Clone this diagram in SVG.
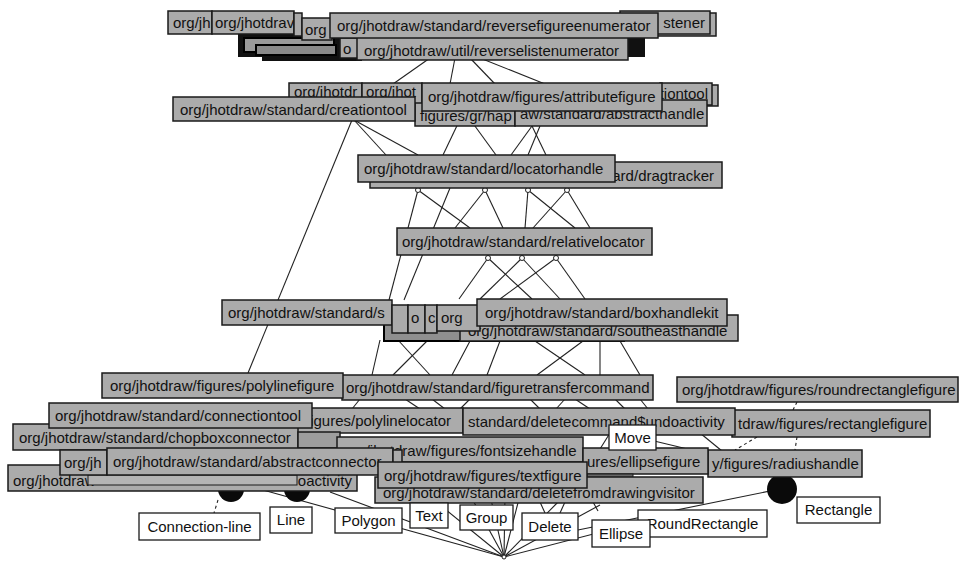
<svg xmlns="http://www.w3.org/2000/svg" width="961" height="562" viewBox="0 0 961 562">
<style>
.n rect{fill:#ababab;stroke:#1a1a1a;stroke-width:1.5}
.n text,.l text{font-family:"Liberation Sans",Arial,sans-serif;font-size:15px;fill:#111}
.l rect{fill:#fff;stroke:#1a1a1a;stroke-width:1.3}
.l text{text-anchor:middle}
.e{text-anchor:end}
#edges line{stroke:#222;stroke-width:1.1;fill:none}
#edges .d{stroke-dasharray:3 3}
.c{fill:#fff;stroke:#222;stroke-width:1}
.blk{fill:#111}
.dot{fill:#0a0a0a}
</style>
<rect width="961" height="562" fill="#fff"/>
<g id="edges">
<line x1="430" y1="58" x2="393" y2="84"/>
<line x1="455" y1="58" x2="450" y2="84"/>
<line x1="470" y1="58" x2="495" y2="84"/>
<line x1="480" y1="58" x2="545" y2="84"/>
<line x1="354" y1="120" x2="386" y2="155"/>
<line x1="354" y1="120" x2="418" y2="155"/>
<line x1="464" y1="111" x2="443" y2="155"/>
<line x1="464" y1="111" x2="496" y2="155"/>
<line x1="532" y1="126" x2="511" y2="155"/>
<line x1="532" y1="126" x2="546" y2="155"/>
<line x1="540" y1="126" x2="528" y2="155"/>
<line x1="352" y1="120" x2="248" y2="373"/>
<line x1="418" y1="190" x2="470" y2="228"/>
<line x1="418" y1="190" x2="389" y2="300"/>
<line x1="450" y1="188" x2="404" y2="300"/>
<line x1="485" y1="190" x2="503" y2="228"/>
<line x1="485" y1="190" x2="455" y2="228"/>
<line x1="528" y1="190" x2="525" y2="228"/>
<line x1="528" y1="190" x2="575" y2="228"/>
<line x1="567" y1="190" x2="533" y2="228"/>
<line x1="567" y1="190" x2="590" y2="228"/>
<line x1="488" y1="258" x2="459" y2="299"/>
<line x1="488" y1="258" x2="532" y2="299"/>
<line x1="522" y1="258" x2="480" y2="299"/>
<line x1="522" y1="258" x2="560" y2="299"/>
<line x1="556" y1="258" x2="500" y2="299"/>
<line x1="556" y1="258" x2="585" y2="299"/>
<line x1="380" y1="340" x2="372" y2="375"/>
<line x1="398" y1="340" x2="430" y2="375"/>
<line x1="428" y1="340" x2="393" y2="375"/>
<line x1="470" y1="341" x2="452" y2="375"/>
<line x1="500" y1="341" x2="487" y2="375"/>
<line x1="535" y1="341" x2="585" y2="375"/>
<line x1="583" y1="341" x2="537" y2="375"/>
<line x1="600" y1="341" x2="600" y2="375"/>
<line x1="620" y1="341" x2="640" y2="375"/>
<line x1="360" y1="399" x2="352" y2="409"/>
<line x1="405" y1="399" x2="420" y2="409"/>
<line x1="432" y1="399" x2="445" y2="409"/>
<line x1="470" y1="399" x2="460" y2="409"/>
<line x1="530" y1="399" x2="540" y2="409"/>
<line x1="565" y1="399" x2="556" y2="409"/>
<line x1="575" y1="399" x2="590" y2="409"/>
<line x1="615" y1="399" x2="625" y2="409"/>
<line x1="640" y1="399" x2="648" y2="409"/>
<line x1="700" y1="433" x2="722" y2="451"/>
<line x1="650" y1="440" x2="700" y2="452"/>
<line x1="610" y1="433" x2="600" y2="449"/>
<line class="d" x1="797" y1="402" x2="793" y2="410"/>
<line class="d" x1="757" y1="437" x2="735" y2="450"/>
<line class="d" x1="797" y1="437" x2="795" y2="450"/>
<line class="d" x1="218" y1="500" x2="214" y2="513"/>
<line x1="263" y1="490" x2="504" y2="557"/>
<line x1="330" y1="492" x2="504" y2="557"/>
<line x1="440" y1="505" x2="504" y2="557"/>
<line x1="470" y1="495" x2="504" y2="557"/>
<line x1="490" y1="495" x2="504" y2="557"/>
<line x1="505" y1="495" x2="504" y2="557"/>
<line x1="520" y1="495" x2="504" y2="557"/>
<line x1="560" y1="500" x2="504" y2="557"/>
<line x1="600" y1="505" x2="504" y2="557"/>
<line x1="640" y1="522" x2="504" y2="557"/>
<line x1="578" y1="530" x2="775" y2="490"/>
<line x1="593" y1="502" x2="598" y2="511"/>
<line x1="540" y1="502" x2="545" y2="513"/>
<line x1="565" y1="502" x2="560" y2="513"/>
<circle class="c" cx="418" cy="190" r="2.5"/>
<circle class="c" cx="485" cy="190" r="2.5"/>
<circle class="c" cx="528" cy="190" r="2.5"/>
<circle class="c" cx="567" cy="190" r="2.5"/>
<circle class="c" cx="488" cy="258" r="2.5"/>
<circle class="c" cx="522" cy="258" r="2.5"/>
<circle class="c" cx="556" cy="258" r="2.5"/>
<circle class="c" cx="504" cy="557" r="2"/>
</g>
<g id="circles">
<circle class="dot" cx="231" cy="489" r="13"/>
<circle class="dot" cx="297" cy="489" r="13"/>
<circle class="dot" cx="782" cy="489" r="15"/>
</g>
<g id="top-stack">
<rect class="blk" x="238" y="34" width="407" height="23"/>
<rect class="blk" x="262" y="55" width="100" height="6"/>
<rect x="244" y="38" width="90" height="14" fill="#9a9a9a" stroke="#000" stroke-width="2"/>
<rect x="256" y="45" width="80" height="10" fill="#8a8a8a" stroke="#000" stroke-width="2"/>
</g>
<g class="n" id="n-top1"><rect x="168" y="11" width="44" height="23"/><text x="173" y="28">org/jh</text></g>
<g class="n" id="n-top2"><rect x="212" y="11" width="82" height="23"/><text x="215" y="28">org/jhotdrav</text></g>
<g class="n" id="n-top3"><rect x="294" y="13" width="8" height="23"/></g>
<g class="n" id="n-top4"><rect x="302" y="18" width="30" height="22"/><text x="305" y="35">org</text></g>
<g class="n" id="n-top5"><rect x="630" y="13" width="86" height="23"/></g>
<g class="n" id="n-top6"><rect x="620" y="11" width="90" height="23"/><text class="e" x="705" y="28">stener</text></g>
<g class="n" id="n-top7"><rect x="340" y="38" width="18" height="20"/><text x="343" y="54">o</text></g>
<g class="n" id="n-reverselistenumerator"><rect x="357" y="36" width="271" height="24"/><text x="364" y="56">org/jhotdraw/util/reverselistenumerator</text></g>
<g class="n" id="n-reversefigureenumerator"><rect x="330" y="13" width="328" height="25"/><text x="337" y="31">org/jhotdraw/standard/reversefigureenumerator</text></g>
<g class="n" id="n-mid1"><rect x="289" y="83" width="73" height="22"/><text x="294" y="97">org/jhotdr</text></g>
<g class="n" id="n-mid2"><rect x="362" y="83" width="60" height="22"/><text x="366" y="97">org/jhot</text></g>
<g class="n" id="n-mid3"><rect x="668" y="85" width="50" height="21"/></g>
<g class="n" id="n-mid4"><rect x="660" y="83" width="52" height="22"/><text class="e" x="708" y="99">tiontool</text></g>
<g class="n" id="n-mid5"><rect x="415" y="103" width="100" height="23"/><text x="420" y="121">figures/gr/hap</text></g>
<g class="n" id="n-abstracthandle"><rect x="515" y="100" width="192" height="26"/><text x="520" y="119">aw/standard/abstracthandle</text></g>
<g class="n" id="n-attributefigure"><rect x="422" y="83" width="240" height="28"/><text x="428" y="102">org/jhotdraw/figures/attributefigure</text></g>
<g class="n" id="n-creationtool"><rect x="173" y="97" width="242" height="24"/><text x="180" y="115">org/jhotdraw/standard/creationtool</text></g>
<g class="n" id="n-dragtracker"><rect x="370" y="162" width="352" height="26"/><text class="e" x="714" y="181">ard/dragtracker</text></g>
<g class="n" id="n-locatorhandle"><rect x="358" y="155" width="257" height="27"/><text x="364" y="174">org/jhotdraw/standard/locatorhandle</text></g>
<g class="n" id="n-relativelocator"><rect x="397" y="228" width="255" height="27"/><text x="402" y="247">org/jhotdraw/standard/relativelocator</text></g>
<g class="n" id="n-low-back"><rect x="384" y="316" width="240" height="25" style="fill:#8f8f8f;stroke:#000;stroke-width:2"/></g>
<g class="n" id="n-southeasthandle"><rect x="460" y="315" width="278" height="26"/><text x="468" y="336">org/jhotdraw/standard/southeasthandle</text></g>
<g class="n" id="n-s"><rect x="222" y="300" width="170" height="25"/><text x="228" y="318">org/jhotdraw/standard/s</text></g>
<g class="n" id="n-f1"><rect x="392" y="305" width="16" height="28"/></g>
<g class="n" id="n-f2"><rect x="408" y="305" width="17" height="28"/><text x="411" y="323">o</text></g>
<g class="n" id="n-f3"><rect x="425" y="305" width="12" height="28"/><text x="428" y="323">c</text></g>
<g class="n" id="n-f4"><rect x="437" y="305" width="43" height="26"/><text x="441" y="323">org</text></g>
<g class="n" id="n-boxhandlekit"><rect x="477" y="299" width="250" height="27"/><text x="485" y="318">org/jhotdraw/standard/boxhandlekit</text></g>
<g class="n" id="n-polylinelocator"><rect x="296" y="408" width="167" height="25"/><text x="306" y="426">figures/polylinelocator</text></g>
<g class="n" id="n-rectanglefigure"><rect x="732" y="410" width="198" height="27"/><text x="738" y="429">tdraw/figures/rectanglefigure</text></g>
<g class="n" id="n-deletecommand-undoactivity"><rect x="463" y="408" width="272" height="27"/><text x="468" y="427">standard/deletecommand$undoactivity</text></g>
<g class="n" id="n-roundrectanglefigure"><rect x="677" y="377" width="281" height="25"/><text x="682" y="395">org/jhotdraw/figures/roundrectanglefigure</text></g>
<g class="n" id="n-figuretransfercommand"><rect x="342" y="375" width="311" height="25"/><text x="346" y="393">org/jhotdraw/standard/figuretransfercommand</text></g>
<g class="n" id="n-polylinefigure"><rect x="102" y="373" width="241" height="25"/><text x="110" y="391">org/jhotdraw/figures/polylinefigure</text></g>
<g class="n" id="n-chopboxconnector"><rect x="13" y="424" width="285" height="26"/><text x="19" y="443">org/jhotdraw/standard/chopboxconnector</text></g>
<g class="n" id="n-behind-chop"><rect x="298" y="432" width="42" height="16" style="fill:#9d9d9d"/></g>
<g class="n" id="n-connectiontool"><rect x="49" y="403" width="263" height="25"/><text x="55" y="421">org/jhotdraw/standard/connectiontool</text></g>
<g class="n" id="n-bottom-undoactivity"><rect x="8" y="465" width="349" height="26"/><text x="13" y="486">org/jhotdraw</text><text class="e" x="352" y="486">oactivity</text></g>
<g class="n" id="n-band"><rect x="88" y="475" width="209" height="10" style="fill:#b4b4b4;stroke-width:1"/></g>
<g class="n" id="n-fontsizehandle"><rect x="337" y="437" width="246" height="25"/><text x="344" y="456">org/jhotdraw/figures/fontsizehandle</text></g>
<g class="n" id="n-orgjh"><rect x="60" y="450" width="47" height="25"/><text x="64" y="468">org/jh</text></g>
<g class="n" id="n-abstractconnector"><rect x="107" y="448" width="286" height="27"/><text x="113" y="467">org/jhotdraw/standard/abstractconnector</text></g>
<g class="n" id="n-small"><rect x="393" y="450" width="9" height="25"/></g>
<g class="n" id="n-radiushandle"><rect x="708" y="450" width="154" height="27"/><text x="712" y="469">y/figures/radiushandle</text></g>
<g class="n" id="n-ellipsefigure"><rect x="583" y="448" width="125" height="26"/><text x="587" y="467">ures/ellipsefigure</text></g>
<g class="n" id="n-strip"><rect x="587" y="474" width="46" height="4" style="fill:#666;stroke-width:1"/></g>
<g class="n" id="n-deletefromdrawingvisitor"><rect x="375" y="477" width="328" height="26"/><text x="383" y="498">org/jhotdraw/standard/deletefromdrawingvisitor</text></g>
<g class="n" id="n-textfigure"><rect x="378" y="462" width="209" height="26"/><text x="384" y="481">org/jhotdraw/figures/textfigure</text></g>
<g class="l" id="l-move"><rect x="609" y="425" width="47" height="25"/><text x="632.5" y="443">Move</text></g>
<g class="l" id="l-connection-line"><rect x="139" y="513" width="121" height="27"/><text x="199.5" y="532">Connection-line</text></g>
<g class="l" id="l-line"><rect x="270" y="507" width="42" height="26"/><text x="291" y="525">Line</text></g>
<g class="l" id="l-polygon"><rect x="335" y="508" width="67" height="25"/><text x="368.5" y="526">Polygon</text></g>
<g class="l" id="l-text"><rect x="410" y="503" width="38" height="25"/><text x="429" y="521">Text</text></g>
<g class="l" id="l-group"><rect x="460" y="505" width="53" height="25"/><text x="486.5" y="523">Group</text></g>
<g class="l" id="l-delete"><rect x="522" y="513" width="56" height="27"/><text x="550" y="532">Delete</text></g>
<g class="l" id="l-roundrectangle"><rect x="638" y="510" width="129" height="27"/><text x="702.5" y="529">RoundRectangle</text></g>
<g class="l" id="l-ellipse"><rect x="592" y="520" width="58" height="27"/><text x="621" y="539">Ellipse</text></g>
<g class="l" id="l-rectangle"><rect x="797" y="497" width="83" height="26"/><text x="838.5" y="515">Rectangle</text></g>
</svg>
